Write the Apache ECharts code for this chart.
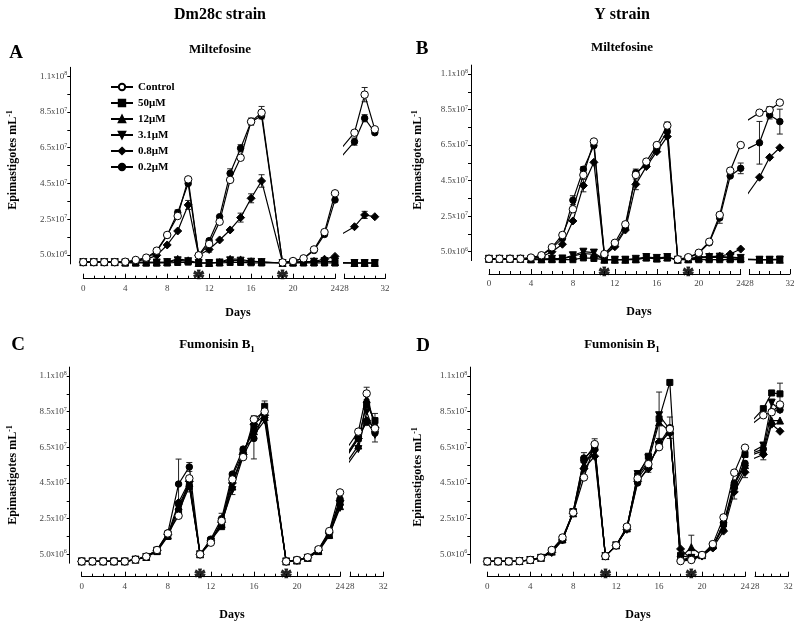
<!DOCTYPE html>
<html><head><meta charset="utf-8">
<script src="https://cdn.jsdelivr.net/npm/echarts@6/dist/echarts.min.js"></script>
<style>html,body{margin:0;padding:0;background:#fff}#c{width:800px;height:626px}</style>
</head><body><div id="c"></div>
<script>
// ---------- DATA (cell densities in units of 10^7 epimastigotes/mL) ----------
const seriesNames = ['Control', '50μM', '12μM', '3.1μM', '0.8μM', '0.2μM'];
const daysAC = [0,1,2,3,4,5,6,7,8,9,10,11,12,13,14,15,16,17,19,20,21,22,23,24,29,30,31];
const daysBD = [0,1,2,3,4,5,6,7,8,9,10,11,12,13,14,15,16,17,18,19,20,21,22,23,24,29,30,31];
const starDays = [11, 19];

// Panel A: Dm28c, Miltefosine
const A_control = [0.1,0.1,0.1,0.1,0.12,0.22,0.35,0.74,1.62,2.68,4.73, 0.48,1.11,2.36,4.70,5.94,7.96,8.46, 0.08,0.16,0.31,0.81,1.78,3.95, 7.34,9.47,7.53];
const A_50 = [0.1,0.1,0.1,0.1,0.05,0.05,0.05,0.05,0.05,0.08,0.1, 0.05,0.05,0.05,0.08,0.08,0.06,0.05, 0.05,0.05,0.05,0.05,0.05,0.05, 0.05,0.05,0.05];
const A_12 = [0.1,0.1,0.1,0.1,0.08,0.08,0.08,0.08,0.1,0.28,0.2, 0.05,0.05,0.1,0.28,0.25,0.15,0.12, 0.05,0.08,0.1,0.1,0.12,0.1, 0.05,0.05,0.05];
const A_3_1 = [0.1,0.1,0.1,0.1,0.08,0.08,0.08,0.08,0.1,0.2,0.15, 0.05,0.05,0.08,0.2,0.18,0.12,0.1, 0.05,0.08,0.1,0.12,0.15,0.12, 0.05,0.05,0.05];
const A_08 = [0.1,0.1,0.1,0.1,0.1,0.15,0.25,0.48,1.06,1.84,3.30, 0.48,0.81,1.34,1.90,2.59,3.67,4.64, 0.08,0.1,0.12,0.14,0.26,0.42, 2.08,2.74,2.64];
const A_02 = [0.1,0.1,0.1,0.1,0.1,0.2,0.3,0.7,1.6,2.87,4.5, 0.48,1.3,2.64,5.07,6.47,7.96,8.28, 0.08,0.15,0.3,0.75,1.65,3.58, 6.84,8.15,7.34];
const A_err = [[9,2.87,0.15],[10,3.3,0.25],[12,0.81,0.15],[12,1.3,0.1],[14,5.07,0.25],[15,6.47,0.2],[15,2.59,0.25],[16,3.67,0.25],[16,7.96,0.2],[17,8.46,0.35],[17,4.64,0.35],[29,6.84,0.2],[30,9.47,0.4],[30,8.15,0.2],[30,2.74,0.2]];

// Panel B: Y strain, Miltefosine
const B_control = [0.1,0.1,0.1,0.1,0.17,0.3,0.75,1.44,2.89,4.82,6.7, 0.37,1.0,2.04,4.82,5.57,6.5,7.6, 0.07,0.19,0.44,1.06,2.57,5.06,6.5, 8.32,8.47,8.89];
const B_50 = [0.1,0.1,0.1,0.1,0.05,0.05,0.05,0.05,0.05,0.15,0.12, 0.05,0.05,0.05,0.05,0.15,0.1,0.15, 0.05,0.05,0.05,0.05,0.05,0.05,0.05, 0.05,0.05,0.08];
const B_12 = [0.1,0.1,0.1,0.1,0.08,0.08,0.1,0.1,0.25,0.4,0.35, 0.05,0.05,0.05,0.08,0.18,0.12,0.18, 0.05,0.08,0.15,0.18,0.2,0.15,0.12, 0.05,0.05,0.05];
const B_3_1 = [0.1,0.1,0.1,0.1,0.08,0.08,0.1,0.12,0.3,0.5,0.45, 0.05,0.05,0.05,0.1,0.2,0.15,0.2, 0.05,0.1,0.18,0.2,0.22,0.2,0.15, 0.05,0.05,0.05];
const B_08 = [0.1,0.1,0.1,0.1,0.12,0.2,0.5,0.92,2.23,4.22,5.53, 0.3,0.78,1.72,4.29,5.29,6.13,6.98, 0.07,0.1,0.2,0.22,0.25,0.37,0.65, 4.69,5.81,6.35];
const B_02 = [0.1,0.1,0.1,0.1,0.15,0.28,0.7,1.25,3.4,5.14,6.47, 0.32,0.88,1.82,4.95,5.38,6.32,7.26, 0.07,0.15,0.42,1.0,2.4,4.76,5.19, 6.63,8.19,7.82];
const B_err = [[8,3.4,0.25],[9,5.14,0.15],[9,4.22,0.35],[9,0.5,0.15],[10,0.45,0.15],[14,4.95,0.2],[14,4.29,0.3],[17,7.6,0.2],[22,2.4,0.3],[24,5.19,0.3],[29,6.63,1.2],[30,8.32,0.35],[31,7.82,0.7]];

// Panel C: Dm28c, Fumonisin B1
const C_control = [0.1,0.1,0.1,0.1,0.1,0.2,0.37,0.74,1.67,2.66,4.76, 0.5,1.15,2.37,4.7,5.95,8.07,8.51, 0.1,0.18,0.33,0.78,1.8,3.97, 7.38,9.52,7.56];
const C_50 = [0.1,0.1,0.1,0.1,0.1,0.2,0.35,0.65,1.5,2.9,4.3, 0.5,1.3,2.05,4.9,6.2,7.6,8.8, 0.1,0.15,0.3,0.65,1.55,3.4, 7.0,8.9,8.0];
const C_12 = [0.1,0.1,0.1,0.1,0.1,0.2,0.35,0.7,1.55,3.2,4.5, 0.5,1.3,2.2,4.3,6.3,7.4,8.2, 0.1,0.15,0.3,0.7,1.6,3.2, 6.6,9.2,7.8];
const C_3_1 = [0.1,0.1,0.1,0.1,0.1,0.2,0.35,0.7,1.6,3.1,4.4, 0.5,1.2,2.3,4.1,6.0,7.2,8.0, 0.1,0.15,0.3,0.7,1.6,3.1, 6.4,8.5,7.2];
const C_08 = [0.1,0.1,0.1,0.1,0.1,0.2,0.36,0.72,1.6,3.4,4.6, 0.5,1.25,2.3,4.5,6.1,7.8,8.3, 0.1,0.16,0.32,0.72,1.7,3.5, 7.0,8.0,7.6];
const C_02 = [0.1,0.1,0.1,0.1,0.1,0.2,0.37,0.75,1.7,4.44,5.4, 0.5,1.35,2.5,5.0,6.4,7.0,8.5, 0.1,0.17,0.33,0.75,1.75,3.6, 7.1,7.9,7.3];
const C_err = [[9,4.44,1.4],[10,5.4,0.25],[10,4.4,0.4],[13,2.5,0.3],[14,4.2,0.35],[16,7.0,1.15],[16,8.07,0.2],[17,8.8,0.3],[29,7.2,0.3],[30,9.52,0.35],[31,7.3,0.5],[31,8.0,0.4]];

// Panel D: Y strain, Fumonisin B1
const D_control = [0.1,0.1,0.1,0.12,0.18,0.31,0.74,1.44,2.84,4.81,6.68, 0.4,1.0,2.05,4.76,5.56,6.51,7.53, 0.12,0.18,0.46,1.07,2.57,5.08,6.48, 8.3,8.47,8.9];
const D_50 = [0.1,0.1,0.1,0.12,0.18,0.3,0.7,1.3,2.9,5.8,6.6, 0.4,1.0,1.95,4.9,6.0,8.1,10.14, 0.44,0.3,0.45,0.95,2.2,4.3,6.1, 8.67,9.55,9.5];
const D_12 = [0.1,0.1,0.1,0.12,0.18,0.3,0.65,1.35,2.8,5.5,6.5, 0.4,1.0,1.95,4.9,5.7,7.9,7.4, 0.3,0.9,0.45,1.0,2.0,4.4,5.5, 6.3,8.0,8.0];
const D_3_1 = [0.1,0.1,0.1,0.12,0.18,0.3,0.65,1.3,2.85,5.6,6.2, 0.4,1.0,1.95,5.0,5.9,8.3,7.5, 0.2,0.3,0.4,0.9,2.1,4.2,5.3, 6.6,9.0,8.6];
const D_08 = [0.1,0.1,0.1,0.12,0.18,0.3,0.6,1.3,2.8,5.3,6.0, 0.4,1.0,1.9,4.6,5.3,6.8,7.3, 0.8,0.2,0.4,0.85,1.8,4.0,5.1, 6.1,7.8,7.4];
const D_02 = [0.1,0.1,0.1,0.12,0.18,0.3,0.68,1.35,2.9,5.9,6.4, 0.4,1.0,1.95,4.5,5.4,6.7,7.6, 0.2,0.2,0.45,0.9,2.2,4.5,5.6, 6.4,8.5,8.6];
const D_err = [[9,5.8,0.4],[10,6.68,0.3],[15,5.5,0.4],[16,8.3,1.3],[17,7.6,0.6],[19,0.87,0.7],[23,4.0,0.4],[24,5.1,0.3],[29,6.2,0.4],[30,8.9,0.3],[31,9.5,0.6]];

// Axis ticks
const yTickValues = [0.5, 2.5, 4.5, 6.5, 8.5, 10.5];
const yAllTickValues = [0.5, 1.5, 2.5, 3.5, 4.5, 5.5, 6.5, 7.5, 8.5, 9.5, 10.5];
const yTickMantissa = ['5.0', '2.5', '4.5', '6.5', '8.5', '1.1'];
const yTickExponent = ['6', '7', '7', '7', '7', '8'];

// ---------- LAYOUT / STYLE ----------
const SERIF = '"Liberation Serif","DejaVu Serif",serif';
const panels = [
  {days: daysAC, vals: [A_control, A_50, A_12, A_3_1, A_08, A_02], err: A_err,
   L: 83.3, W: 251.7, R: 344.3, RW: 40.7, top: 67.3, h: 196.6, yOff: 13, xOff: 14.8},
  {days: daysBD, vals: [B_control, B_50, B_12, B_3_1, B_08, B_02], err: B_err,
   L: 489, W: 251.7, R: 749.3, RW: 40.7, top: 65.1, h: 195.5, yOff: 18, xOff: 13.4},
  {days: daysAC, vals: [C_control, C_50, C_12, C_3_1, C_08, C_02], err: C_err,
   L: 81.7, W: 258.3, R: 350, RW: 33.3, top: 367.1, h: 196.1, yOff: 12, xOff: 13.5},
  {days: daysBD, vals: [D_control, D_50, D_12, D_3_1, D_08, D_02], err: D_err,
   L: 487.3, W: 257.7, R: 755, RW: 33.3, top: 367.1, h: 196.1, yOff: 17, xOff: 13.5}
];
const symbolDefs = [
  {symbol: 'circle', size: 7.5, fill: '#fff', rotate: 0},
  {symbol: 'rect', size: 6, fill: '#000', rotate: 0},
  {symbol: 'triangle', size: 7, fill: '#000', rotate: 0},
  {symbol: 'triangle', size: 7, fill: '#000', rotate: 180},
  {symbol: 'diamond', size: 8, fill: '#000', rotate: 0},
  {symbol: 'circle', size: 6.5, fill: '#000', rotate: 0}
];
const drawOrder = [1, 2, 3, 4, 5, 0];

const grids = [], xAxes = [], yAxes = [], series = [];

function errItem(params, api) {
  const x = api.value(0), y = api.value(1), e = api.value(2);
  const hi = api.coord([x, y + e]), lo = api.coord([x, y - e]);
  const w = 3, st = {stroke: '#222', lineWidth: 1};
  return {type: 'group', children: [
    {type: 'line', shape: {x1: hi[0], y1: hi[1], x2: lo[0], y2: lo[1]}, style: st},
    {type: 'line', shape: {x1: hi[0] - w, y1: hi[1], x2: hi[0] + w, y2: hi[1]}, style: st},
    {type: 'line', shape: {x1: lo[0] - w, y1: lo[1], x2: lo[0] + w, y2: lo[1]}, style: st}
  ]};
}

const yLabelRich = {
  m: {fontSize: 9, fontFamily: SERIF, color: '#444', lineHeight: 11},
  x: {fontSize: 8, fontFamily: SERIF, color: '#444', lineHeight: 11},
  e: {fontSize: 6, fontFamily: SERIF, color: '#444', lineHeight: 6, verticalAlign: 'top'}
};
function yFmt(v) {
  const i = yTickValues.findIndex(t => Math.abs(t - v) < 1e-6);
  return i < 0 ? '' : '{m|' + yTickMantissa[i] + '}{x|x}{m|10}{e|' + yTickExponent[i] + '}';
}

panels.forEach((p, pi) => {
  const gL = 2 * pi, gR = 2 * pi + 1;
  grids.push({left: p.L, top: p.top, width: p.W, height: p.h, containLabel: false, outerBoundsMode: 'none'});
  grids.push({left: p.R, top: p.top, width: p.RW, height: p.h, containLabel: false, outerBoundsMode: 'none'});
  const xBase = {
    type: 'value', position: 'bottom', offset: p.xOff, interval: 4,
    axisLine: {show: true, onZero: false, lineStyle: {color: '#000', width: 1}},
    axisTick: {show: true, inside: true, length: 5, lineStyle: {color: '#000', width: 1}},
    minorTick: {show: true, splitNumber: 4, length: 3, lineStyle: {color: '#000', width: 1}},
    axisLabel: {fontSize: 9, color: '#444', fontFamily: SERIF, margin: 5},
    splitLine: {show: false}, minorSplitLine: {show: false}
  };
  xAxes.push(Object.assign({}, xBase, {gridIndex: gL, min: 0, max: 24}));
  xAxes.push(Object.assign({}, xBase, {gridIndex: gR, min: 28, max: 32}));
  yAxes.push({type: 'value', gridIndex: gL, min: 0, max: 11, position: 'left', offset: p.yOff,
    axisLine: {show: true, onZero: false, lineStyle: {color: '#000', width: 1}},
    axisTick: {show: true, length: 3, customValues: yAllTickValues, lineStyle: {color: '#000'}},
    axisLabel: {show: true, customValues: yTickValues, formatter: yFmt, rich: yLabelRich, margin: 3},
    splitLine: {show: false}});
  yAxes.push({type: 'value', gridIndex: gR, min: 0, max: 11, show: false});
  const yL = 2 * pi, yR = 2 * pi + 1;

  drawOrder.forEach((k, oi) => {
    const sd = symbolDefs[k];
    const pts = p.days.map((d, i) => [d, p.vals[k][i]]);
    const common = {
      type: 'line', name: seriesNames[k], symbol: sd.symbol, symbolSize: sd.size, symbolRotate: sd.rotate,
      showAllSymbol: true, clip: true, animation: false, z: 3 + oi,
      lineStyle: {color: '#000', width: 1.2},
      itemStyle: {color: sd.fill, borderColor: '#000', borderWidth: 1},
      emphasis: {disabled: true}
    };
    series.push(Object.assign({}, common, {xAxisIndex: gL, yAxisIndex: yL, data: pts.filter(q => q[0] <= 24)}));
    series.push(Object.assign({}, common, {xAxisIndex: gR, yAxisIndex: yR, data: pts.filter(q => q[0] >= 24)}));
  });
  series.push({type: 'custom', xAxisIndex: gL, yAxisIndex: yL, renderItem: errItem, z: 2, clip: false,
    animation: false, encode: {x: 0, y: 1}, data: p.err.filter(q => q[0] <= 24)});
  series.push({type: 'custom', xAxisIndex: gR, yAxisIndex: yR, renderItem: errItem, z: 2, clip: false,
    animation: false, encode: {x: 0, y: 1}, data: p.err.filter(q => q[0] >= 28)});
  series.push({type: 'scatter', xAxisIndex: gL, yAxisIndex: yL, clip: false, animation: false,
    symbolSize: 1, itemStyle: {color: 'rgba(0,0,0,0)'}, silent: true,
    data: starDays.map(d => [d, -0.45]),
    label: {show: true, position: 'inside', formatter: '*', fontSize: 24, fontWeight: 'bold',
            color: '#000', textBorderColor: '#000', textBorderWidth: 1,
            fontFamily: SERIF, offset: [0, 7]}});
});

// ---------- TEXT ----------
function T(x, y, text, size, extra) {
  return Object.assign({type: 'text', x: x, y: y, silent: true,
    style: Object.assign({text: text, fontSize: size, fontWeight: 'bold', fontFamily: SERIF, fill: '#000',
      align: 'center', verticalAlign: 'middle'}, extra || {})});
}
const richSub = {
  a: {fontSize: 13, fontWeight: 'bold', fontFamily: SERIF, fill: '#000', lineHeight: 18},
  s: {fontSize: 9, fontWeight: 'bold', fontFamily: SERIF, fill: '#000', lineHeight: 9, verticalAlign: 'bottom'}
};
const richSup = {
  a: {fontSize: 12, fontWeight: 'bold', fontFamily: SERIF, fill: '#000', lineHeight: 14},
  s: {fontSize: 8, fontWeight: 'bold', fontFamily: SERIF, fill: '#000', lineHeight: 8, verticalAlign: 'top'}
};
const yName = '{a|Epimastigotes mL}{s|-1}';
const texts = [
  T(220, 15, 'Dm28c strain', 16), T(622, 15, 'Y strain', 16),
  T(16, 53, 'A', 19), T(422, 49, 'B', 19), T(18, 345, 'C', 19), T(423, 346, 'D', 19),
  T(220, 50, 'Miltefosine', 13), T(622, 48, 'Miltefosine', 13),
  T(217, 345, '{a|Fumonisin B}{s|1}', 13, {rich: richSub}), T(622, 345, '{a|Fumonisin B}{s|1}', 13, {rich: richSub}),
  T(238, 313, 'Days', 12), T(639, 312, 'Days', 12), T(232, 615, 'Days', 12), T(638, 615, 'Days', 12)
];
[[13, 160], [418, 160], [13, 475], [418, 477]].forEach(c => {
  const t = T(c[0], c[1], yName, 12, {rich: richSup});
  t.rotation = Math.PI / 2;
  texts.push(t);
});

const chart = echarts.init(document.getElementById('c'), null, {renderer: 'canvas', width: 800, height: 626});
chart.setOption({
  backgroundColor: '#fff',
  animation: false,
  grid: grids, xAxis: xAxes, yAxis: yAxes, series: series,
  legend: {
    data: seriesNames, orient: 'vertical', left: 105, top: 76, itemWidth: 22, itemHeight: 8, itemGap: 4,
    textStyle: {fontSize: 11, fontWeight: 'bold', fontFamily: SERIF, color: '#000', lineHeight: 12},
    selectedMode: false
  },
  graphic: {elements: texts}
});
</script></body></html>
